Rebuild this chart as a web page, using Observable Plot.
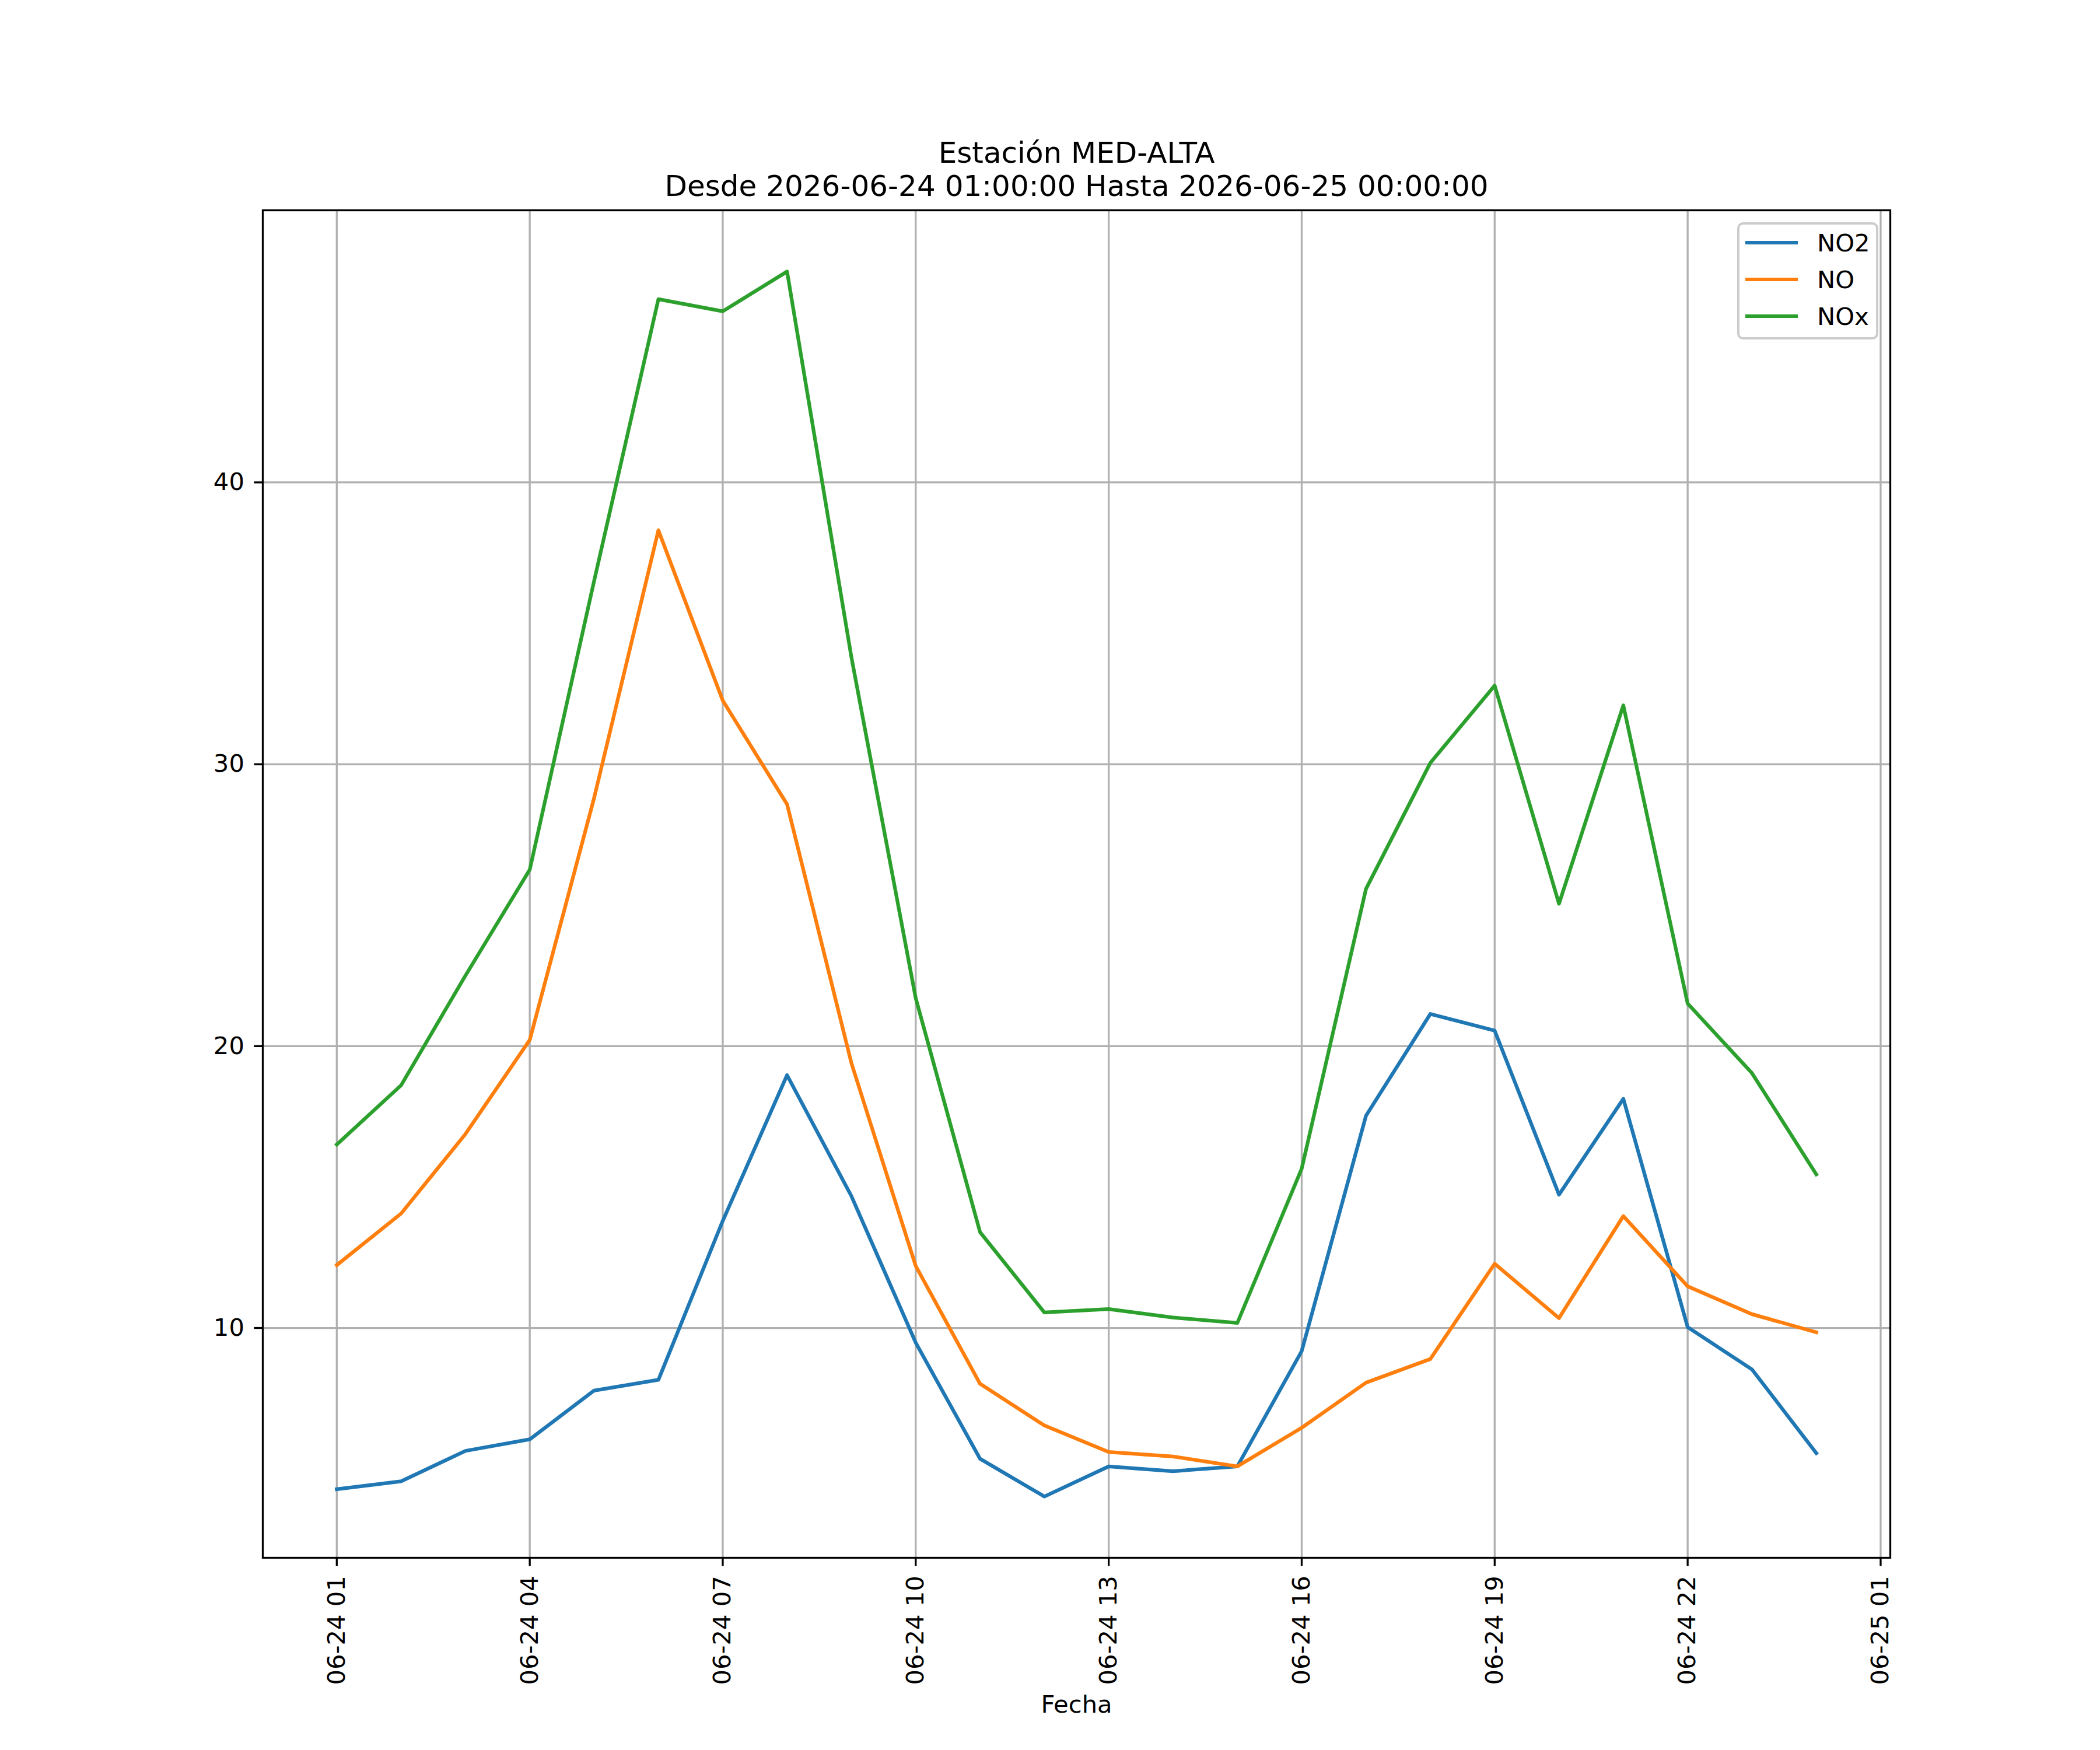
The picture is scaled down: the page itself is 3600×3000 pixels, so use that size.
<!DOCTYPE html>
<html><head><meta charset="utf-8">
<script src="https://cdn.jsdelivr.net/npm/d3@7"></script>
<script src="https://cdn.jsdelivr.net/npm/@observablehq/plot@0.6"></script>
<style>
html,body{margin:0;padding:0;background:#fff;}
#chart{position:relative;width:3600px;height:3000px;font-family:"DejaVu Sans";}
#legend{position:absolute;left:2978px;top:381px;width:242px;height:201px;box-sizing:border-box;border:4px solid #cccccc;border-radius:10px;background:rgba(255,255,255,0.8);}
.sw{position:absolute;left:10px;width:90px;height:6px;}
.lb{position:absolute;left:133px;font-size:41.7px;line-height:41.7px;color:#000;font-family:"DejaVu Sans";white-space:nowrap;}
</style></head><body><div id="chart"></div>
<script>
const times = [
  "2026-06-24T01:00:00Z","2026-06-24T02:00:00Z","2026-06-24T03:00:00Z","2026-06-24T04:00:00Z",
  "2026-06-24T05:00:00Z","2026-06-24T06:00:00Z","2026-06-24T07:00:00Z","2026-06-24T08:00:00Z",
  "2026-06-24T09:00:00Z","2026-06-24T10:00:00Z","2026-06-24T11:00:00Z","2026-06-24T12:00:00Z",
  "2026-06-24T13:00:00Z","2026-06-24T14:00:00Z","2026-06-24T15:00:00Z","2026-06-24T16:00:00Z",
  "2026-06-24T17:00:00Z","2026-06-24T18:00:00Z","2026-06-24T19:00:00Z","2026-06-24T20:00:00Z",
  "2026-06-24T21:00:00Z","2026-06-24T22:00:00Z","2026-06-24T23:00:00Z","2026-06-25T00:00:00Z"
];
const seriesNames = ["NO2", "NO", "NOx"];
const seriesColors = ["#1f77b4", "#ff7f0e", "#2ca02c"];
const no2 = [4.28, 4.56, 5.64, 6.05, 7.78, 8.16, 13.8, 18.97, 14.68, 9.48, 5.36, 4.02,
             5.09, 4.92, 5.09, 9.18, 17.53, 21.14, 20.55, 14.73, 18.13, 10.03, 8.53, 5.56];
const no = [12.23, 14.06, 16.88, 20.22, 28.8, 38.3, 32.26, 28.58, 19.4, 12.2, 8.02, 6.54,
            5.6, 5.44, 5.09, 6.46, 8.06, 8.9, 12.28, 10.35, 13.97, 11.48, 10.49, 9.85];
const nox = [16.51, 18.61, 22.5, 26.26, 36.5, 46.5, 46.07, 47.48, 33.8, 21.7, 13.4, 10.55,
             10.67, 10.37, 10.18, 15.65, 25.58, 30.05, 32.79, 25.05, 32.09, 21.51, 19.04, 15.45];
const xTicks = ["2026-06-24T01:00:00Z","2026-06-24T04:00:00Z","2026-06-24T07:00:00Z",
                "2026-06-24T10:00:00Z","2026-06-24T13:00:00Z","2026-06-24T16:00:00Z",
                "2026-06-24T19:00:00Z","2026-06-24T22:00:00Z","2026-06-25T01:00:00Z"];
const yTicks = [10, 20, 30, 40];
const titleLine1 = "Estación MED-ALTA";
const titleLine2 = "Desde 2026-06-24 01:00:00 Hasta 2026-06-25 00:00:00";
const xLabel = "Fecha";

const valuesBySeries = [no2, no, nox];
const dates = times.map(t => new Date(t));
const data = seriesNames.flatMap((s, i) =>
  valuesBySeries[i].map((v, j) => ({time: dates[j], value: v, series: s})));

const [t0, t1] = d3.extent(dates);
const tpad = (t1 - t0) * 0.05;
const xDomain = [new Date(+t0 - tpad), new Date(+t1 + tpad)];
const [v0, v1] = d3.extent(data, d => d.value);
const vpad = (v1 - v0) * 0.05;
const yDomain = [v0 - vpad, v1 + vpad];
const xTickDates = xTicks.map(t => new Date(t));

const chart = Plot.plot({
  width: 3600,
  height: 3000,
  marginLeft: 450,
  marginRight: 360,
  marginTop: 360,
  marginBottom: 330,
  style: {fontFamily: "DejaVu Sans", fontSize: "41.7px", color: "black", background: "white"},
  x: {type: "utc", domain: xDomain},
  y: {domain: yDomain},
  color: {domain: seriesNames, range: seriesColors},
  marks: [
    Plot.gridX(xTickDates, {stroke: "#b0b0b0", strokeOpacity: 1, strokeWidth: 3.3}),
    Plot.gridY(yTicks, {stroke: "#b0b0b0", strokeOpacity: 1, strokeWidth: 3.3}),
    Plot.line(data, {x: "time", y: "value", stroke: "series", z: "series",
      strokeWidth: 6.25, strokeLinejoin: "round", strokeLinecap: "square"}),
    Plot.frame({stroke: "black", strokeWidth: 3.3}),
    Plot.axisX(xTickDates, {tickSize: 14.6, tickPadding: 16, tickRotate: -90,
      tickFormat: d3.utcFormat("%m-%d %H"), strokeWidth: 3.3, label: null}),
    Plot.axisY(yTicks, {tickSize: 14.6, tickPadding: 17, strokeWidth: 3.3, label: null}),
    Plot.text([titleLine1], {text: d => d, frameAnchor: "top", dy: -117, lineAnchor: "top", fontSize: 50}),
    Plot.text([titleLine2], {text: d => d, frameAnchor: "top", dy: -60, lineAnchor: "top", fontSize: 50}),
    Plot.text([xLabel], {text: d => d, frameAnchor: "bottom", dy: 236, lineAnchor: "top"})
  ]
});

const container = document.getElementById("chart");
container.appendChild(chart);

const legend = document.createElement("div");
legend.id = "legend";
const rowCenters = [31, 94, 157];
seriesNames.forEach((s, i) => {
  const sw = document.createElement("div");
  sw.className = "sw";
  sw.style.top = (rowCenters[i] - 3) + "px";
  sw.style.background = seriesColors[i];
  legend.appendChild(sw);
  const lb = document.createElement("div");
  lb.className = "lb";
  lb.style.top = (rowCenters[i] - 20) + "px";
  lb.textContent = s;
  legend.appendChild(lb);
});
container.appendChild(legend);
</script>
</body></html>
